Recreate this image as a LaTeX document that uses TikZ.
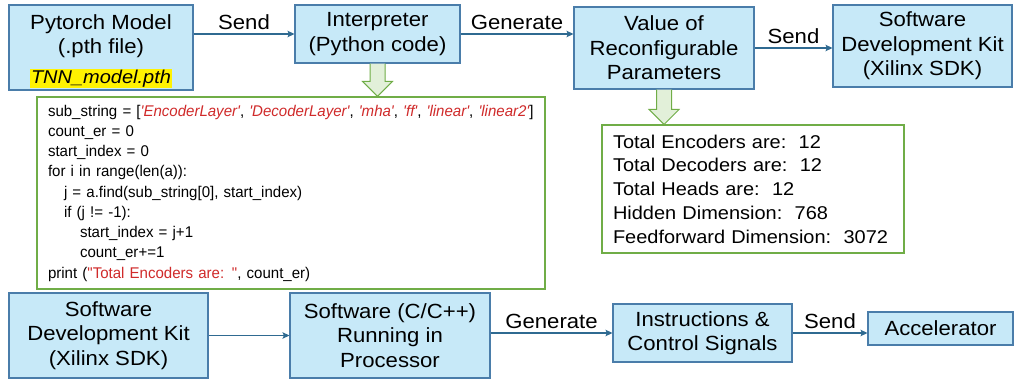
\documentclass[tikz,border=0pt]{standalone}
\usepackage{fontspec}
\setmainfont{Liberation Sans}[FakeStretch=1.08]
\newfontfamily\codefont{Liberation Sans}[Ligatures=TeXOff, FakeStretch=0.97]
\usepackage{xcolor}
\usetikzlibrary{arrows.meta,positioning}

\definecolor{boxfill}{HTML}{C7E9F8}
\definecolor{boxline}{HTML}{4A7DAA}
\definecolor{arrowline}{HTML}{2F6A91}
\definecolor{panelline}{HTML}{70AD47}
\definecolor{panelfill}{HTML}{E2F0D9}
\definecolor{codered}{HTML}{D02A2A}

\setlength{\fboxsep}{1pt}
\newcommand{\pystr}[1]{{\color{codered}\itshape '#1'}}

\begin{document}
\begin{tikzpicture}[
    x=1pt, y=-1pt,
    block/.style={rectangle, draw=boxline, fill=boxfill, line width=1.1pt, align=center, inner sep=0pt, font=\fontsize{20.5}{24.5}\selectfont},
    panel/.style={rectangle, draw=panelline, fill=white, line width=1.1pt, align=left, inner xsep=11pt, inner ysep=0pt},
    arrow/.style={line width=1.1pt, draw=arrowline, -{Stealth[length=7pt,width=6.5pt,inset=1.5pt]}},
    tag/.style={font=\fontsize{20.5}{24.5}\selectfont, text depth=0pt, inner sep=3.5pt},
    fat/.style={draw=panelline, fill=panelfill, line width=1pt}
]
\useasboundingbox[fill=white] (0,0) rectangle (1014,379);

% Top row
\node (pytorch) [block, minimum width=184pt, minimum height=85pt] at (101,47.5) {\\[-2pt]Pytorch Model\\(.pth file)\\[5pt]{\fontsize{18.5}{20}\selectfont\itshape\colorbox{yellow}{TNN\_model.pth}}};
\node (interp) [block, minimum width=165pt, minimum height=58pt] at (377.5,34) {Interpreter\\(Python code)};
\node (value) [block, minimum width=180pt, minimum height=82pt] at (664,48) {Value of\\Reconfigurable\\Parameters};
\node (sdktop) [block, minimum width=179pt, minimum height=82pt] at (922.5,46) {Software\\Development Kit\\(Xilinx SDK)};

\draw [arrow] (interp.west -| pytorch.east) -- node[tag, above] (send1) {Send} (interp.west);
\draw [arrow] (interp.east) -- node[tag, above] (gen1) {Generate} (interp.east -| value.west);
\draw [arrow] (value.east) -- node[tag, above] (send2) {Send} (value.east -| sdktop.west);

% Code and values
\node (code) [panel, text width=486pt, minimum height=192pt, font=\codefont\fontsize{15.5}{20.25}\selectfont] at (291,193) {%
sub\_string = [\pystr{EncoderLayer}, \pystr{DecoderLayer}, \pystr{mha}, \pystr{ff}, \pystr{linear}, \pystr{linear2}]\\
count\_er = 0\\
start\_index = 0\\
for i in range(len(a)):\\
\hspace*{16pt}j = a.find(sub\_string[0], start\_index)\\
\hspace*{16pt}if (j != -1):\\
\hspace*{32pt}start\_index = j+1\\
\hspace*{32pt}count\_er+=1\\
print ({\color{codered}"Total Encoders are: "}, count\_er)};
\node (values) [panel, text width=280pt, minimum height=128pt, font=\fontsize{18.5}{23.75}\selectfont] at (753,189) {%
Total Encoders are:\ \ 12\\
Total Decoders are:\ \ 12\\
Total Heads are:\ \ 12\\
Hidden Dimension:\ \ 768\\
Feedforward Dimension:\ \ 3072};

\foreach \src/\dst in {interp/code, value/values} {
  \path (\src.south |- \dst.north) coordinate (tip);
  \draw [fat] ([xshift=-7.5pt]\src.south) -- ([xshift=-7.5pt, yshift=15pt]tip) -- ([xshift=-15pt, yshift=15pt]tip) -- (tip)
    -- ([xshift=15pt, yshift=15pt]tip) -- ([xshift=7.5pt, yshift=15pt]tip) -- ([xshift=7.5pt]\src.south);
}

% Bottom row
\node (sdkbot) [block, minimum width=199pt, minimum height=85pt] at (108.5,335.5) {Software\\Development Kit\\(Xilinx SDK)};
\node (soft) [block, minimum width=200pt, minimum height=85pt] at (390,335.5) {Software (C/C++)\\Running in\\Processor};
\node (instr) [block, minimum width=179pt, minimum height=58pt] at (702.5,333) {Instructions \&\\Control Signals};
\node (accel) [block, minimum width=145pt, minimum height=33pt] at (940.5,328.5) {Accelerator};

\draw [arrow] (sdkbot) -- (soft);
\draw [arrow] (soft.east |- instr.west) -- node[tag, above] (gen2) {Generate} (instr.west);
\draw [arrow] (instr.east) -- node[tag, above] (send3) {Send} (instr.east -| accel.west);

\end{tikzpicture}
\end{document}
